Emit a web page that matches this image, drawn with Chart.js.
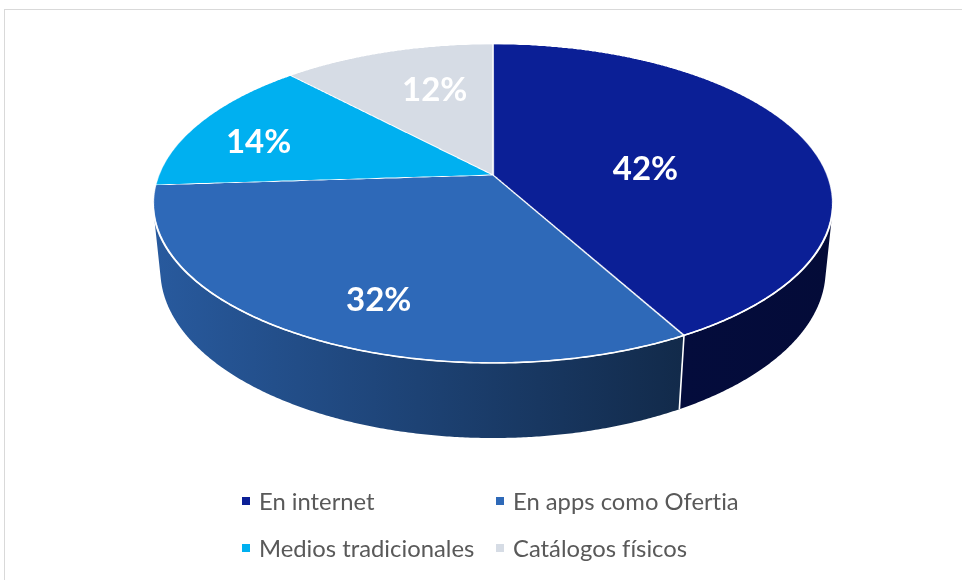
<!DOCTYPE html>
<html>
<head>
<meta charset="utf-8">
<script src="https://cdn.jsdelivr.net/npm/chart.js@4"></script>
<style>
html,body{margin:0;padding:0;background:#fff;width:962px;height:580px;overflow:hidden;}
#frame{position:absolute;left:4px;top:9px;width:1000px;height:600px;border-left:1px solid #d9d9d9;border-top:1px solid #d9d9d9;box-sizing:border-box;}
#c{position:absolute;left:0;top:0;}
#legend{position:absolute;left:242px;top:477.5px;display:grid;grid-template-columns:254px auto;grid-auto-rows:47px;font-family:Lato,"Open Sans",sans-serif;font-size:23.8px;color:#595959;font-variant-ligatures:none;font-feature-settings:"liga" 0;}
#legend .item{display:flex;align-items:center;white-space:nowrap;}
#legend .sw{display:inline-block;width:8px;height:8px;margin-right:9px;flex:none;}
</style>
</head>
<body>
<div id="frame"></div>
<canvas id="c" width="962" height="580"></canvas>
<div id="legend"></div>
<script>
// ---- data ----
const categories = ['En internet', 'En apps como Ofertia', 'Medios tradicionales', 'Catálogos físicos'];
const shares = [42, 32, 14, 12];
const sliceColors = ['#0b1f96', '#2e69b8', '#00b0f0', '#d6dce5'];
// label placement (style): radial fraction and angular shift in the flat pie
const labelRadius = [0.46, 0.77, 0.76, 0.64];
const labelShiftDeg = [10, -6, -5, 4];

// ---- camera for the tilted 3D pie (style) ----
const CAM = {cx: 493, cy: 175, f: 1660, D: 4.964, sa: 0.4616, ca: 0.8871, depth: 0.2265};
function proj(u, v, Y) {
  const Z = CAM.D - Y * CAM.sa - v * CAM.ca;
  return [CAM.cx + CAM.f * u / Z, CAM.cy + CAM.f * (v * CAM.sa - Y * CAM.ca) / Z];
}
function hexRgb(h) { const n = parseInt(h.slice(1), 16); return [(n >> 16) & 255, (n >> 8) & 255, n & 255]; }
function shadeCol(h, k) { const c = hexRgb(h); return 'rgb(' + c.map(x => Math.round(x * k)).join(',') + ')'; }
// wall lighting across the pie width: [position 0..1, factor]
const wallLight = [[0, 0.86], [0.78, 0.40], [1, 0.37]];

// ---- legend ----
const lg = document.getElementById('legend');
categories.forEach((c, i) => {
  const d = document.createElement('div'); d.className = 'item';
  const s = document.createElement('span'); s.className = 'sw'; s.style.background = sliceColors[i];
  d.appendChild(s); d.appendChild(document.createTextNode(c)); lg.appendChild(d);
});

const pie3d = {
  id: 'pie3d',
  beforeDatasetsDraw(chart) {
    const ctx = chart.ctx;
    const W = chart.width, H = chart.height;
    const arcs = chart.getDatasetMeta(0).data;
    const TAU = Math.PI * 2;

    // silhouette extents
    let xL = 1e9, xR = -1e9;
    for (let k = 0; k <= 720; k++) { const a = k / 720 * TAU; const p = proj(Math.cos(a), Math.sin(a), 0); xL = Math.min(xL, p[0]); xR = Math.max(xR, p[0]); }

    // ---- side walls ----
    const vmin = 1 / (CAM.D * CAM.ca);
    const visLo = Math.asin(vmin), visHi = Math.PI - visLo;
    arcs.forEach((arc, i) => {
      const {startAngle, endAngle} = arc.getProps(['startAngle', 'endAngle'], true);
      for (const sh of [-TAU, 0, TAU]) {
        const lo = Math.max(startAngle + sh, visLo), hi = Math.min(endAngle + sh, visHi);
        if (hi <= lo) continue;
        const n = Math.max(8, Math.ceil((hi - lo) * 150));
        ctx.beginPath();
        for (let k = 0; k <= n; k++) { const a = lo + (hi - lo) * k / n; const p = proj(Math.cos(a), Math.sin(a), 0); k ? ctx.lineTo(p[0], p[1]) : ctx.moveTo(p[0], p[1]); }
        for (let k = n; k >= 0; k--) { const a = lo + (hi - lo) * k / n; const p = proj(Math.cos(a), Math.sin(a), -CAM.depth); ctx.lineTo(p[0], p[1]); }
        ctx.closePath();
        const g = ctx.createLinearGradient(xL, 0, xR, 0);
        wallLight.forEach(([pos, f]) => g.addColorStop(pos, shadeCol(sliceColors[i], f)));
        ctx.fillStyle = g; ctx.fill();
      }
    });
    // separators on the walls
    ctx.strokeStyle = '#ffffff'; ctx.lineWidth = 1.6;
    arcs.forEach(arc => {
      let a = arc.getProps(['startAngle'], true).startAngle;
      a = ((a % TAU) + TAU) % TAU;
      if (a > visLo && a < visHi) {
        const p = proj(Math.cos(a), Math.sin(a), 0), q = proj(Math.cos(a), Math.sin(a), -CAM.depth);
        ctx.beginPath(); ctx.moveTo(p[0], p[1]); ctx.lineTo(q[0], q[1]); ctx.stroke();
      }
    });

    // ---- top face: library-drawn flat pie, projected row by row ----
    const N = 1200, RS = 570;
    const off = document.createElement('canvas'); off.width = N; off.height = N;
    const oc = off.getContext('2d');
    const a0 = arcs[0];
    const s = RS / a0.outerRadius;
    oc.setTransform(s, 0, 0, s, N / 2 - s * a0.x, N / 2 - s * a0.y);
    arcs.forEach(a => a.draw(oc));

    const SS = 2;
    const wc = document.createElement('canvas'); wc.width = W * SS; wc.height = H * SS;
    const w = wc.getContext('2d'); w.imageSmoothingEnabled = true; w.imageSmoothingQuality = 'high';
    const yTop = proj(0, -1, 0)[1], yBot = proj(0, 1, 0)[1];
    const halfU = (N / 2) / RS;
    for (let r = Math.floor(yTop * SS) - 2; r <= Math.ceil(yBot * SS) + 2; r++) {
      const yrel = (r + 0.5) / SS - CAM.cy;
      const v = yrel * CAM.D / (CAM.f * CAM.sa + yrel * CAM.ca);
      if (v < -1 || v > 1) continue;
      const sc = CAM.f / (CAM.D - v * CAM.ca);
      const sy = Math.min(N - 1, Math.max(0, Math.floor(N / 2 + v * RS)));
      w.drawImage(off, 0, sy, N, 1, (CAM.cx - sc * halfU) * SS, r, 2 * sc * halfU * SS, 1);
    }
    ctx.save();
    ctx.imageSmoothingEnabled = true; ctx.imageSmoothingQuality = 'high';
    ctx.drawImage(wc, 0, 0, W, H);
    ctx.restore();

    // white rim along the front edge
    ctx.beginPath();
    for (let k = 0; k <= 300; k++) { const a = visLo - 0.05 + (visHi - visLo + 0.1) * k / 300; const p = proj(Math.cos(a), Math.sin(a), 0); k ? ctx.lineTo(p[0], p[1]) : ctx.moveTo(p[0], p[1]); }
    ctx.strokeStyle = '#ffffff'; ctx.lineWidth = 1.6; ctx.stroke();

    // ---- value labels ----
    ctx.save();
    ctx.font = 'bold 33px Lato, "Open Sans", sans-serif';
    ctx.fillStyle = '#ffffff'; ctx.textAlign = 'center'; ctx.textBaseline = 'middle';
    arcs.forEach((arc, i) => {
      const {startAngle, endAngle} = arc.getProps(['startAngle', 'endAngle'], true);
      const m = (startAngle + endAngle) / 2 + labelShiftDeg[i] * Math.PI / 180;
      const p = proj(labelRadius[i] * Math.cos(m), labelRadius[i] * Math.sin(m), 0);
      ctx.fillText(shares[i] + '%', p[0], p[1]);
    });
    ctx.restore();
    return false;
  }
};

function build() {
  new Chart(document.getElementById('c'), {
    type: 'pie',
    data: {
      labels: categories,
      datasets: [{data: shares, backgroundColor: sliceColors, borderColor: '#ffffff', borderWidth: 1.4}]
    },
    options: {
      responsive: false,
      animation: false,
      events: [],
      layout: {padding: 0},
      plugins: {legend: {display: false}, tooltip: {enabled: false}}
    },
    plugins: [pie3d]
  });
}
if (document.fonts && document.fonts.load) {
  Promise.all([document.fonts.load('bold 33px Lato'), document.fonts.load('22px Lato')]).then(build, build);
} else { build(); }
</script>
</body>
</html>
